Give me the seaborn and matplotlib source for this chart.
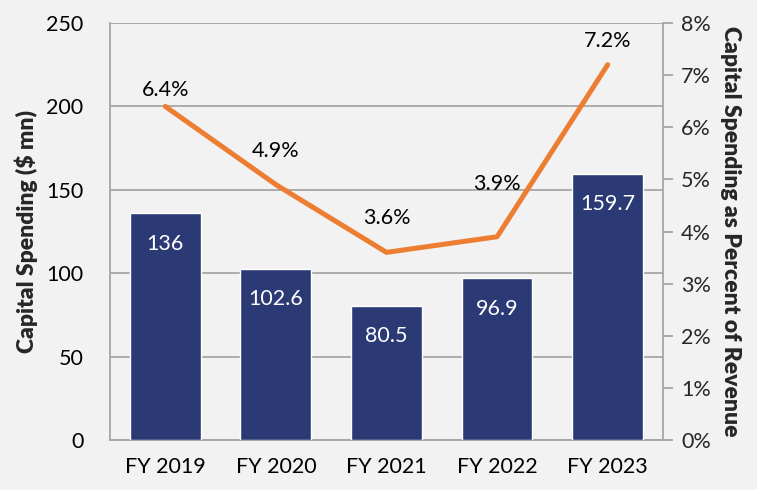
import matplotlib
matplotlib.use("Agg")
import matplotlib.pyplot as plt
import seaborn as sns
import pandas as pd

years = ["FY 2019", "FY 2020", "FY 2021", "FY 2022", "FY 2023"]
capex = [136, 102.6, 80.5, 96.9, 159.7]
capex_labels = ["136", "102.6", "80.5", "96.9", "159.7"]
pct = [6.4, 4.9, 3.6, 3.9, 7.2]
pct_labels = ["6.4%", "4.9%", "3.6%", "3.9%", "7.2%"]
left_ticks = [0, 50, 100, 150, 200, 250]
right_ticks = [0, 1, 2, 3, 4, 5, 6, 7, 8]

sns.set_theme(style="white")
plt.rcParams['font.family'] = ['Lato', 'DejaVu Sans']

BG = "#f2f2f2"
BAR = "#2b3a75"
LINE = "#ed7d31"
GRID = "#a6a6a6"
FS = 15.5
LFS = 16.5

fig = plt.figure(figsize=(7.57, 4.90), dpi=100, facecolor=BG)
ax = fig.add_axes([0.1453, 0.102, 0.7305, 0.851])
ax.set_facecolor(BG)

df = pd.DataFrame({"year": years, "capex": capex, "pct": pct})
sns.barplot(data=df, x="year", y="capex", color=BAR, width=0.64, saturation=1, ax=ax, zorder=3)
ax.set_ylim(0, 250)
ax.set_xlim(-0.5, 4.5)
ax.set_yticks(left_ticks)
ax.yaxis.grid(True, color=GRID, linewidth=1.3)
ax.set_axisbelow(True)
for s in ["top", "right"]:
    ax.spines[s].set_visible(False)
for s in ["left", "bottom"]:
    ax.spines[s].set_color(GRID)
    ax.spines[s].set_linewidth(1.3)
ax.tick_params(axis="both", length=0, labelsize=FS, colors="black")
ax.tick_params(axis="y", pad=19)
ax.tick_params(axis="x", pad=12)
ax.set_xlabel("")
ax.set_ylabel("Capital Spending ($ mn)", fontsize=LFS, fontweight="heavy", labelpad=6)

for i, (v, lab) in enumerate(zip(capex, capex_labels)):
    ax.annotate(lab, (i, v), xytext=(0, -22), textcoords="offset points",
                ha="center", va="center", color="white", fontsize=FS, zorder=5)

ax2 = ax.twinx()
sns.lineplot(data=df, x=range(len(years)), y="pct", color=LINE, linewidth=3.6, ax=ax2,
             solid_capstyle="round")
ax2.set_ylim(0, 8)
ax2.set_xlim(-0.5, 4.5)
ax2.set_yticks(right_ticks)
ax2.set_yticklabels([f"{t}%" for t in right_ticks])
for s in ["top", "left", "bottom"]:
    ax2.spines[s].set_visible(False)
ax2.spines["right"].set_color(GRID)
ax2.spines["right"].set_linewidth(1.3)
ax2.tick_params(axis="y", length=7, width=1.3, color=GRID, labelsize=FS, pad=6)
ax2.set_ylabel("Capital Spending as Percent of Revenue", fontsize=LFS, fontweight="heavy",
               rotation=270, labelpad=22)

offsets = [(0, 12), (0, 24), (0, 25), (0, 38), (0, 17)]
for i, (v, lab) in enumerate(zip(pct, pct_labels)):
    ax2.annotate(lab, (i, v), xytext=offsets[i], textcoords="offset points",
                 ha="center", va="center", color="black", fontsize=FS)

fig.savefig("out.png", dpi=100, facecolor=BG)
